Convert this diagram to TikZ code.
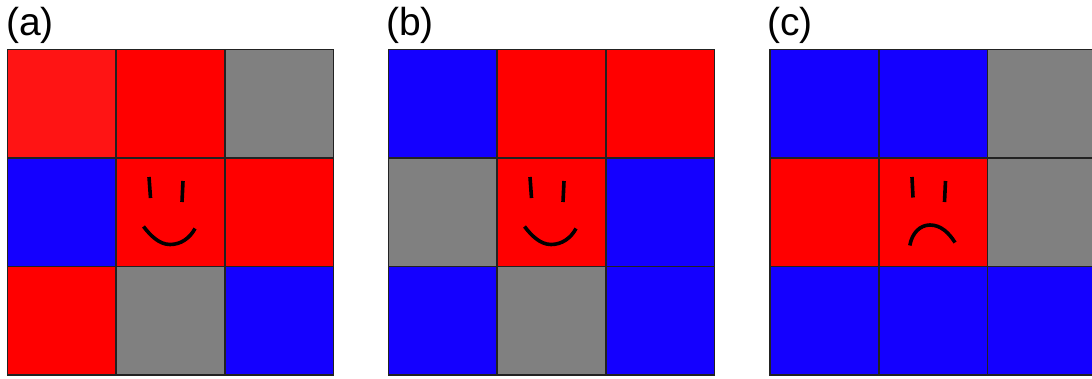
\documentclass[tikz,border=0pt]{standalone}
\usepackage{fontspec}
\setmainfont{Liberation Sans}
\definecolor{cr}{HTML}{FF0000}
\definecolor{crl}{HTML}{FF1414}
\definecolor{cb}{HTML}{1400FF}
\definecolor{cg}{HTML}{808080}
\definecolor{edgec}{HTML}{222222}
\tikzset{
 cell/.style={minimum width=108.7pt,minimum height=108.5pt,inner sep=0pt,outer sep=0pt,anchor=north west},
 celledge/.style={draw=edgec,line width=1.6pt},
 stroke/.style={draw=black,line width=3.6pt,line cap=butt},
 lab/.style={inner sep=0pt,anchor=base west,font=\fontsize{39}{39}\selectfont}
}
\begin{document}
\begin{tikzpicture}[x=1pt,y=-1pt]
\useasboundingbox (0,0) rectangle (1092,378);
\clip (0,0) rectangle (1092,378);
\fill[white] (0,0) rectangle (1092,378);
% panel a
\node[lab] (la) at (6,35) {(a)};
\node[cell,fill=crl] (a1) at (7.5,49.5) {};
\node[cell,fill=cr] (a2) at (116.2,49.5) {};
\node[cell,fill=cg] (a3) at (224.9,49.5) {};
\node[cell,fill=cb] (a4) at (7.5,158) {};
\node[cell,fill=cr] (a5) at (116.2,158) {};
\node[cell,fill=cr] (a6) at (224.9,158) {};
\node[cell,fill=cr] (a7) at (7.5,266.5) {};
\node[cell,fill=cg] (a8) at (116.2,266.5) {};
\node[cell,fill=cb] (a9) at (224.9,266.5) {};
% panel b
\node[lab] (lb) at (386,35) {(b)};
\node[cell,fill=cb] (b1) at (388.5,49.5) {};
\node[cell,fill=cr] (b2) at (497.2,49.5) {};
\node[cell,fill=cr] (b3) at (605.9,49.5) {};
\node[cell,fill=cg] (b4) at (388.5,158) {};
\node[cell,fill=cr] (b5) at (497.2,158) {};
\node[cell,fill=cb] (b6) at (605.9,158) {};
\node[cell,fill=cb] (b7) at (388.5,266.5) {};
\node[cell,fill=cg] (b8) at (497.2,266.5) {};
\node[cell,fill=cb] (b9) at (605.9,266.5) {};
% panel c
\node[lab] (lc) at (767,35) {(c)};
\node[cell,fill=cb] (c1) at (770,49.5) {};
\node[cell,fill=cb] (c2) at (878.7,49.5) {};
\node[cell,fill=cg] (c3) at (987.4,49.5) {};
\node[cell,fill=cr] (c4) at (770,158) {};
\node[cell,fill=cr] (c5) at (878.7,158) {};
\node[cell,fill=cg] (c6) at (987.4,158) {};
\node[cell,fill=cb] (c7) at (770,266.5) {};
\node[cell,fill=cb] (c8) at (878.7,266.5) {};
\node[cell,fill=cb] (c9) at (987.4,266.5) {};
% cell outlines on top of all fills
\foreach \p in {a,b,c}{\foreach \i in {1,...,9}{
  \draw[celledge] (\p\i.north west) rectangle (\p\i.south east);}}
\draw[celledge] (c9.north west) -- (c9.south west);
% faces
\draw[stroke] (149,177) -- (150.5,198);
\draw[stroke] (183,181) -- (182,202);
\draw[stroke] (143.5,226.5) .. controls (150,235) and (159,244.5) .. (170,244.5) .. controls (181,244.5) and (190,238) .. (195,228.5);
\draw[stroke] (530,177) -- (531.5,198);
\draw[stroke] (564,181) -- (563,202);
\draw[stroke] (524.5,226.5) .. controls (531,235) and (540,244.5) .. (551,244.5) .. controls (562,244.5) and (571,238) .. (576,228.5);
\draw[stroke] (912,177) -- (913,197.5);
\draw[stroke] (945.5,181) -- (944.5,202);
\draw[stroke] (909.8,245.5) .. controls (912,233) and (920,225) .. (930,225) .. controls (941,225) and (949,233) .. (955,242.5);
\end{tikzpicture}
\end{document}
